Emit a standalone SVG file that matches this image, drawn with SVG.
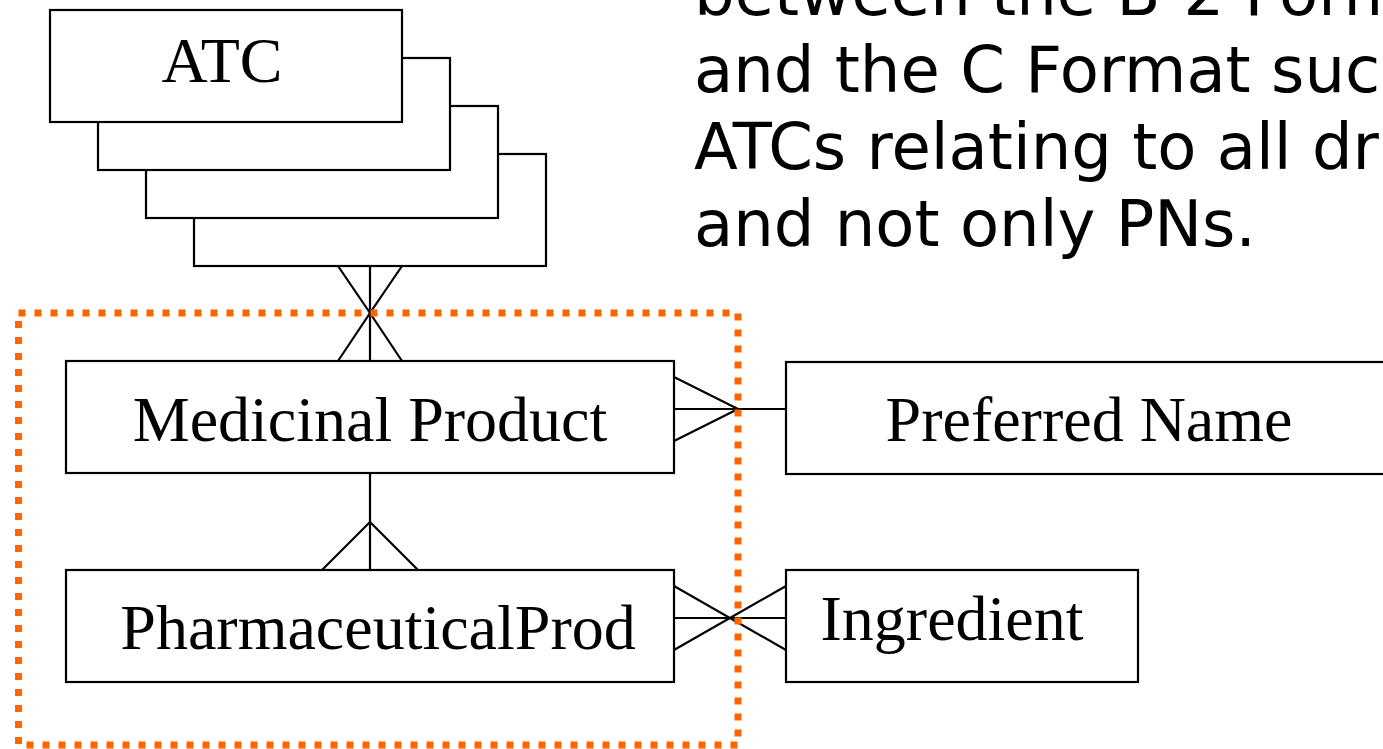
<svg xmlns="http://www.w3.org/2000/svg" width="1383" height="749" viewBox="0 0 1383 749">
  <style>
    .box { fill: #ffffff; stroke: #000000; stroke-width: 2.2; }
    .label { font-family: "Liberation Serif", "Times New Roman", serif; font-size: 64px; fill: #000000; text-anchor: middle; }
    .note { font-family: "DejaVu Sans", Verdana, sans-serif; font-size: 64px; fill: #000000; }
    .conn line, .conn polyline { stroke: #000000; stroke-width: 2.2; fill: none; }
    .scope { fill: none; stroke: #ff6600; stroke-width: 7; stroke-dasharray: 7 9; }
  </style>
  <rect width="1383" height="749" fill="#ffffff"/>

  <!-- explanatory note, running off the right edge -->
  <g id="note">
    <text class="note" x="694" y="15">between the B-2 Format</text>
    <text class="note" x="694" y="92">and the C Format such</text>
    <text class="note" x="694" y="169">ATCs relating to all drugs</text>
    <text class="note" x="694" y="246">and not only PNs.</text>
  </g>

  <!-- ATC: stacked entity (multiple levels) -->
  <g id="atc">
    <rect class="box" x="194" y="154" width="352" height="112"/>
    <rect class="box" x="146" y="106" width="352" height="112"/>
    <rect class="box" x="98" y="58" width="352" height="112"/>
    <rect class="box" x="50" y="10" width="352" height="112"/>
    <text class="label" x="222" y="82">ATC</text>
  </g>

  <g id="medicinal-product">
    <rect class="box" x="66" y="361" width="608" height="112"/>
    <text class="label" x="370" y="441">Medicinal Product</text>
  </g>

  <g id="preferred-name">
    <rect class="box" x="786" y="362" width="606" height="112"/>
    <text class="label" x="1089" y="441">Preferred Name</text>
  </g>

  <g id="pharmaceutical-prod">
    <rect class="box" x="66" y="570" width="608" height="112"/>
    <text class="label" x="378" y="649">PharmaceuticalProd</text>
  </g>

  <g id="ingredient">
    <rect class="box" x="786" y="570" width="352" height="112"/>
    <text class="label" x="952" y="640">Ingredient</text>
  </g>

  <!-- relationships with crow's-foot ends -->
  <g id="connectors" class="conn">
    <!-- ATC many-to-many Medicinal Product -->
    <line x1="370" y1="266" x2="370" y2="361"/>
    <polyline points="338,266 370,313 338,361"/>
    <polyline points="402,266 370,313 402,361"/>
    <!-- Medicinal Product many-to-one Preferred Name -->
    <line x1="674" y1="409" x2="786" y2="409"/>
    <polyline points="674,377 738,409 674,441"/>
    <!-- Medicinal Product one-to-many PharmaceuticalProd -->
    <line x1="370" y1="473" x2="370" y2="570"/>
    <polyline points="322,570 370,522 418,570"/>
    <!-- PharmaceuticalProd many-to-many Ingredient -->
    <line x1="674" y1="618" x2="786" y2="618"/>
    <line x1="674" y1="586" x2="786" y2="650"/>
    <line x1="674" y1="650" x2="786" y2="586"/>
  </g>

  <!-- dotted scope boundary -->
  <g id="scope">
    <rect class="scope" x="18.5" y="313" width="719.5" height="432"/>
  </g>
</svg>
